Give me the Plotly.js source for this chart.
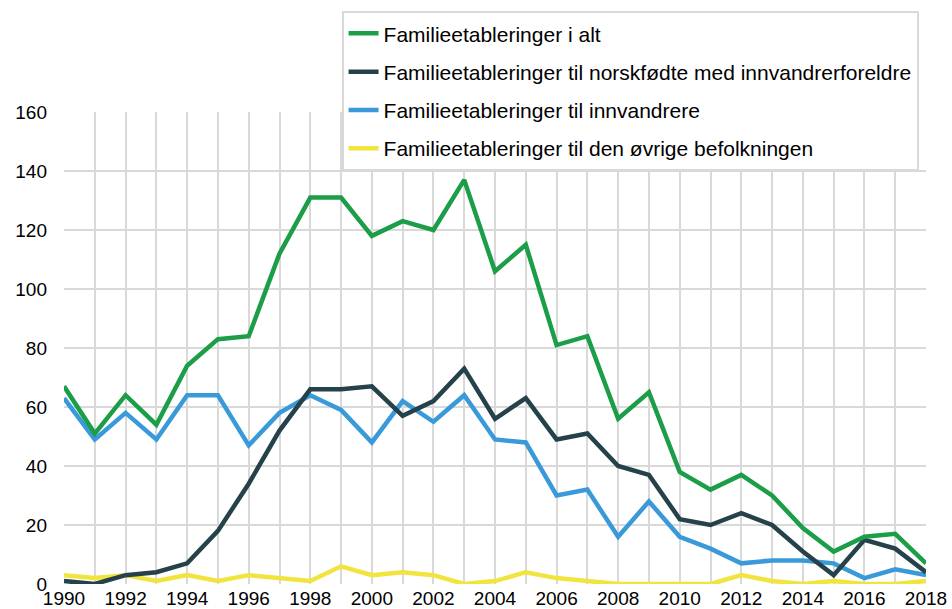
<!DOCTYPE html>
<html>
<head>
<meta charset="utf-8">
<script src="https://cdn.plot.ly/plotly-3.0.1.min.js"></script>
<style>html,body{margin:0;padding:0;background:#fff;}#chart{width:952px;height:609px;}</style>
</head>
<body>
<div id="chart"></div>
<script>
const years = [1990,1991,1992,1993,1994,1995,1996,1997,1998,1999,2000,2001,2002,2003,2004,2005,2006,2007,2008,2009,2010,2011,2012,2013,2014,2015,2016,2017,2018];
const totalt = [67,51,64,54,74,83,84,112,131,131,118,123,120,137,106,115,81,84,56,65,38,32,37,30,19,11,16,17,7];
const norskfodte = [1,0,3,4,7,18,34,52,66,66,67,57,62,73,56,63,49,51,40,37,22,20,24,20,11,3,15,12,4];
const innvandrere = [63,49,58,49,64,64,47,58,64,59,48,62,55,64,49,48,30,32,16,28,16,12,7,8,8,7,2,5,3];
const ovrige = [3,2,3,1,3,1,3,2,1,6,3,4,3,0,1,4,2,1,0,0,0,0,3,1,0,1,0,0,1];
const names = [
  "Familieetableringer i alt",
  "Familieetableringer til norskfødte med innvandrerforeldre",
  "Familieetableringer til innvandrere",
  "Familieetableringer til den øvrige befolkningen"
];
const colors = ["#1c9d48", "#25414a", "#3a9ad9", "#f1e43f"];
const series = [totalt, norskfodte, innvandrere, ovrige];

const order = [3, 2, 1, 0]; // draw order: yellow bottom, green top
const traces = order.map(i => ({
  x: years, y: series[i], name: names[i], type: "scatter", mode: "lines",
  line: {color: colors[i], width: 4.5}, legendgroup: "g" + i, legendrank: i + 1,
  hoverinfo: "x+y"
}));

const layout = {
  width: 952, height: 609,
  margin: {l: 64, r: 26, t: 111, b: 25},
  paper_bgcolor: "#ffffff", plot_bgcolor: "#ffffff",
  font: {family: "Liberation Sans, Arial, sans-serif", size: 19, color: "#000"},
  showlegend: true,
  legend: {
    x: 0.322, y: 1.211, xanchor: "left", yanchor: "top",
    bgcolor: "#ffffff", bordercolor: "#d9d9d9", borderwidth: 2,
    font: {size: 21, color: "#000"},
    traceorder: "grouped", tracegroupgap: 8
  },
  xaxis: {
    range: [1990, 2018], dtick: 2, tick0: 1990, showgrid: true,
    gridcolor: "#d9d9d9", gridwidth: 2, zeroline: false, showline: false,
    ticks: "", tickfont: {size: 19}, ticklabelstandoff: 1,
    minor: {dtick: 1, showgrid: true, gridcolor: "#d9d9d9", gridwidth: 2}
  },
  yaxis: {
    range: [0, 160], dtick: 20, showgrid: true,
    gridcolor: "#d9d9d9", gridwidth: 2, zeroline: false, showline: false,
    ticks: "", tickfont: {size: 19}, ticklabelstandoff: 16
  }
};
Plotly.newPlot("chart", traces, layout, {displayModeBar: false, staticPlot: true});
</script>
</body>
</html>
